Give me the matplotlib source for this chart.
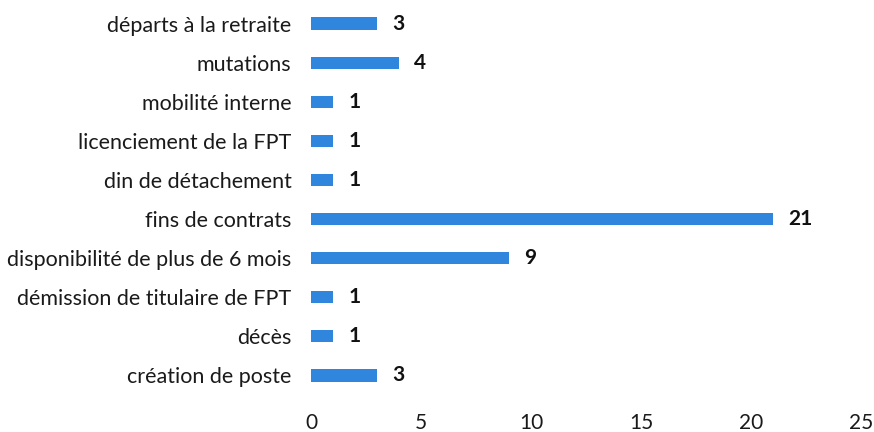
import matplotlib
matplotlib.use("Agg")
import matplotlib.pyplot as plt

categories = ["départs à la retraite", "mutations", "mobilité interne",
              "licenciement de la FPT", "din de détachement", "fins de contrats",
              "disponibilité de plus de 6 mois", "démission de titulaire de FPT",
              "décès", "création de poste"]
values = [3, 4, 1, 1, 1, 21, 9, 1, 1, 3]
xticks = [0, 5, 10, 15, 20, 25]

plt.rcParams['font.family'] = ['Lato', 'DejaVu Sans']

fig = plt.figure(figsize=(8.74, 4.32), dpi=100)
ax = fig.add_axes([311/874, 1 - 395/432, (861-311)/874, (395-4)/432])

ypos = list(range(len(categories)))
ax.barh(ypos, values, height=0.31, color="#2f86dc", edgecolor="none")
ax.set_ylim(len(categories) - 0.5, -0.5)
ax.set_xlim(0, 25)
ax.set_yticks(ypos)
ax.set_yticklabels(categories, fontsize=15.5, color="#1a1a1a")
ax.set_xticks(xticks)
ax.set_xticklabels([str(t) for t in xticks], fontsize=15, color="#1a1a1a")
ax.tick_params(axis='y', length=0, pad=14)
ax.tick_params(axis='x', length=0, pad=13)
for s in ax.spines.values():
    s.set_visible(False)

for y, v in zip(ypos, values):
    ax.text(v + 0.7, y, str(v), va='center', ha='left', fontsize=15,
            fontweight='bold', color="#111111")

fig.savefig("out.png", dpi=100, facecolor="white")
